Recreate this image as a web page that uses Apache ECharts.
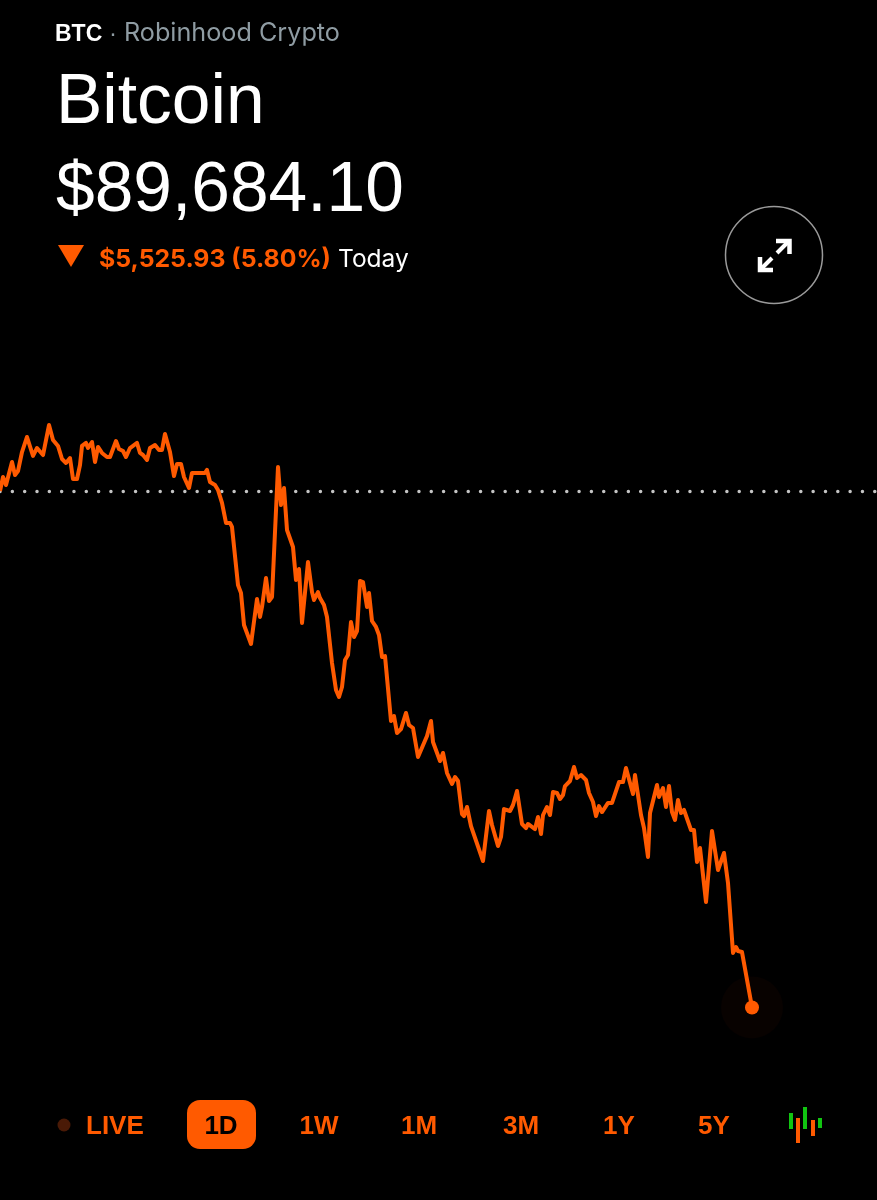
<!DOCTYPE html>
<html lang="en">
<head>
<meta charset="UTF-8">
<title>Bitcoin</title>
<style>
html, body { margin: 0; padding: 0; background: #000; }
#chart { width: 877px; height: 1200px; }
</style>
</head>
<body>
<div id="chart"></div>
<script src="https://cdn.jsdelivr.net/npm/echarts@6/dist/echarts.min.js"></script>
<script>
// minutes since the start of the chart
var minutes = [
  0,6,12,24,30,36,44,54,66,74,
  86,98,106,116,124,132,140,146,154,160,
  164,172,176,184,190,196,204,214,220,232,
  238,246,252,260,274,280,286,294,300,310,
  318,324,330,340,348,354,362,368,372,378,
  384,400,410,414,420,430,436,444,452,460,
  464,476,482,488,502,514,520,524,532,538,
  544,556,562,568,574,586,592,598,604,616,
  624,628,636,640,648,654,664,672,678,684,
  690,696,702,708,714,720,726,734,738,744,
  752,758,764,770,782,788,794,802,812,818,
  826,836,854,862,866,880,886,894,904,910,
  916,924,928,934,942,966,978,984,988,996,
  1002,1008,1020,1026,1034,1038,1044,1052,1056,1070,
  1076,1082,1086,1094,1100,1106,1114,1120,1126,1130,
  1140,1148,1154,1162,1172,1178,1186,1192,1198,1204,
  1216,1224,1238,1246,1252,1266,1270,1282,1288,1296,
  1300,1314,1318,1326,1332,1338,1344,1350,1356,1362,
  1368,1382,1388,1394,1400,1412,1424,1436,1448,1456,
  1466,1472,1476,1484,1504
];
var prices = [
  95210,95360,95274,95520,95381,95424,95627,95788,95585,95670,
  95595,95916,95756,95692,95552,95510,95563,95338,95338,95488,
  95692,95724,95670,95734,95520,95681,95617,95574,95574,95745,
  95659,95638,95574,95670,95724,95617,95595,95542,95670,95702,
  95649,95649,95820,95627,95370,95499,95499,95360,95349,95242,
  95403,95403,95403,95435,95306,95274,95221,95082,94868,94868,
  94825,94204,94119,93776,93573,94054,93862,93969,94279,94033,
  94076,95467,95060,95242,94793,94611,94258,94375,93798,94450,
  94129,94044,94129,94065,93990,93862,93370,93081,93006,93113,
  93402,93455,93808,93648,93712,94247,94236,93969,94119,93819,
  93755,93669,93434,93444,92749,92802,92621,92663,92835,92706,
  92674,92364,92588,92749,92524,92321,92407,92193,92075,92150,
  92107,91754,91732,91829,91625,91251,91786,91636,91561,91411,
  91508,91807,91786,91850,92000,92000,91647,91604,91647,91593,
  91722,91540,91743,91829,91743,91989,91979,91914,91957,92053,
  92107,92257,92139,92171,92118,91979,91882,91732,91839,91775,
  91872,91872,92096,92096,92246,91968,92171,91743,91604,91294,
  91765,92064,91936,92032,91829,92053,91775,91690,91904,91765,
  91797,91583,91583,91240,91390,90812,91572,91155,91337,91016,
  90267,90331,90288,90277,89684.10
];
var previousClose = 95210.03;

var rangeLabels = ['1W', '1M', '3M', '1Y', '5Y'];
var rangeCenters = [319, 419, 521, 619, 714];

var ORANGE = '#ff5a00';
var sans = '"Liberation Sans", sans-serif';
var inter = 'Inter, sans-serif';

var points = minutes.map(function (m, i) { return [m, prices[i]]; });
var lastPoint = points[points.length - 1];

// y is the text baseline; zrender only offers top, so shift up by the ascent
function label(text, x, y, size, color, weight, family, align) {
  return {
    type: 'text', x: x, y: y - size * 0.82, silent: true,
    style: {
      text: text, fill: color, align: align || 'left', verticalAlign: 'top',
      font: (weight || 'normal') + ' ' + size + 'px ' + (family || sans)
    }
  };
}
function bar(x, y1, y2, color) {
  return { type: 'rect', silent: true, shape: { x: x, y: y1, width: 4, height: y2 - y1 }, style: { fill: color } };
}

var graphics = [
  label('BTC', 55, 42, 23, '#fff', 'bold'),
  label('·', 109, 42, 24, '#8f9ca3'),
  label('Robinhood Crypto', 124, 42, 25.2, '#8f9ca3', 'normal', inter),
  label('Bitcoin', 56, 126, 69.5, '#fff'),
  label('$89,684.10', 56, 214, 69.5, '#fff'),
  { type: 'polygon', silent: true, shape: { points: [[58, 245], [84, 245], [71, 267]] }, style: { fill: ORANGE } },
  label('$5,525.93 (5.80%)', 99, 267, 24.8, ORANGE, 'bold', inter),
  label('Today', 338, 267, 24.5, '#fff', 'normal', inter),

  // expand button
  { type: 'circle', silent: true, shape: { cx: 774, cy: 255, r: 48.5 }, style: { fill: 'none', stroke: '#9a9a9a', lineWidth: 1.5 } },
  { type: 'polyline', silent: true, shape: { points: [[776, 241], [789.5, 241], [789.5, 254]] }, style: { fill: 'none', stroke: '#fff', lineWidth: 4.5 } },
  { type: 'line', silent: true, shape: { x1: 788, y1: 242, x2: 777, y2: 253 }, style: { stroke: '#fff', lineWidth: 4 } },
  { type: 'polyline', silent: true, shape: { points: [[760, 257], [760, 270], [773, 270]] }, style: { fill: 'none', stroke: '#fff', lineWidth: 4.5 } },
  { type: 'line', silent: true, shape: { x1: 761, y1: 269, x2: 772, y2: 258 }, style: { stroke: '#fff', lineWidth: 4 } },

  // range selector
  { type: 'circle', silent: true, shape: { cx: 64, cy: 1125, r: 6.5 }, style: { fill: '#4a1a06' } },
  label('LIVE', 86, 1135, 26, ORANGE, 'bold'),
  { type: 'rect', silent: true, shape: { x: 187, y: 1100, width: 69, height: 49, r: 13 }, style: { fill: ORANGE } },
  label('1D', 221, 1135, 26, '#000', 'bold', sans, 'center'),

  // candlestick toggle
  bar(789, 1113, 1129, '#11c511'),
  bar(796, 1118, 1143, ORANGE),
  bar(803, 1107, 1129, '#11c511'),
  bar(811, 1120, 1136, ORANGE),
  bar(818, 1118, 1128, '#11c511')
];
rangeLabels.forEach(function (t, i) {
  graphics.push(label(t, rangeCenters[i], 1135, 26, ORANGE, 'bold', sans, 'center'));
});

var chart = echarts.init(document.getElementById('chart'));
chart.setOption({
  backgroundColor: '#000',
  animation: false,
  grid: { left: 0, right: 0, top: 0, bottom: 0 },
  xAxis: { type: 'value', min: 0, max: 1754, show: false },
  yAxis: { type: 'value', min: 87623.7, max: 100463.7, show: false },
  series: [
    {
      // dim halo behind the last price
      type: 'scatter', z: 1, silent: true, symbolSize: 62,
      itemStyle: { color: '#080200', opacity: 1 },
      data: [lastPoint]
    },
    {
      type: 'line', z: 3, silent: true, data: points, showSymbol: false, symbol: 'none',
      lineStyle: { color: ORANGE, width: 4, join: 'round' },
      markLine: {
        silent: true, symbol: 'none', z: 2,
        label: { show: false },
        lineStyle: { color: '#c4c4c4', width: 3.4, type: [0.1, 12.22], cap: 'round' },
        data: [{ yAxis: previousClose }]
      }
    },
    {
      type: 'scatter', z: 4, silent: true, symbolSize: 14,
      itemStyle: { color: ORANGE, opacity: 1 },
      data: [lastPoint]
    }
  ],
  graphic: graphics
});
</script>
</body>
</html>
